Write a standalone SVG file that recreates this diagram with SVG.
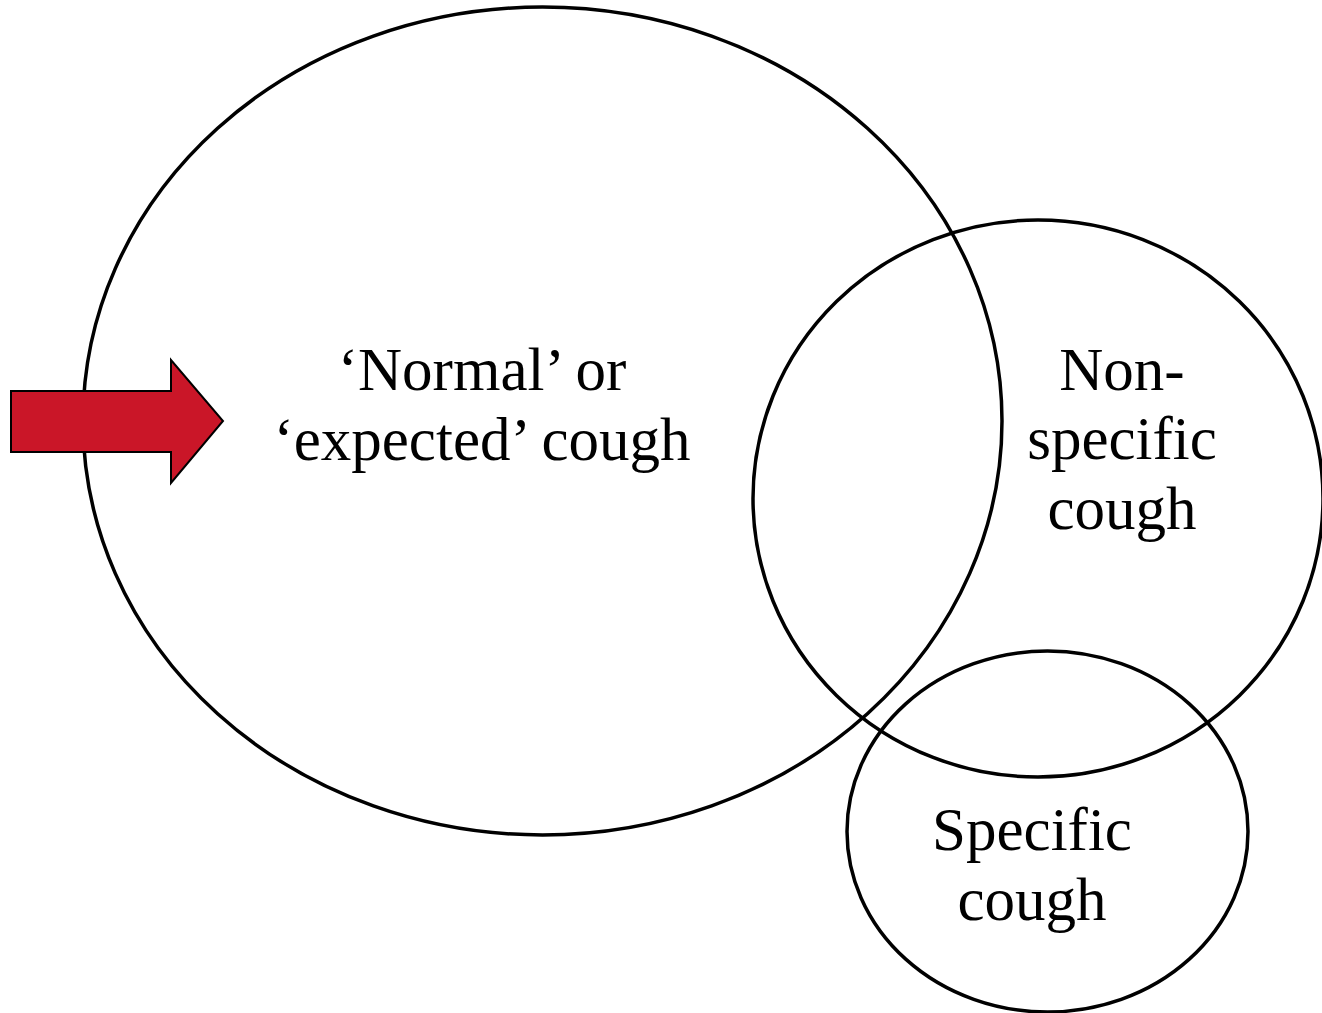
<svg xmlns="http://www.w3.org/2000/svg" width="1322" height="1013" viewBox="0 0 1322 1013">
<style>
.c{fill:none;stroke:#000;stroke-width:3.5}
.t{font-family:"Liberation Serif","Times New Roman",serif;font-size:61px;fill:#000;text-anchor:middle}
</style>
<rect width="1322" height="1013" fill="#fff"/>
<g id="normal">
<ellipse class="c" cx="542.5" cy="421" rx="459.5" ry="414"/>
<text class="t" x="482" y="390">‘Normal’ or</text>
<text class="t" x="482" y="460">‘expected’ cough</text>
</g>
<g id="nonspecific">
<ellipse class="c" cx="1038" cy="498.5" rx="285" ry="278.5"/>
<text class="t" x="1122" y="390">Non-</text>
<text class="t" x="1122" y="459">specific</text>
<text class="t" x="1122" y="529">cough</text>
</g>
<g id="specific">
<ellipse class="c" cx="1047.5" cy="831.5" rx="200.5" ry="180.5"/>
<text class="t" x="1032" y="850">Specific</text>
<text class="t" x="1032" y="920">cough</text>
</g>
<g id="connectors">
<polygon points="11,391 171,391 171,360 223,421 171,483 171,452 11,452" fill="#CA1628" stroke="#000" stroke-width="2"/>
</g>
</svg>
